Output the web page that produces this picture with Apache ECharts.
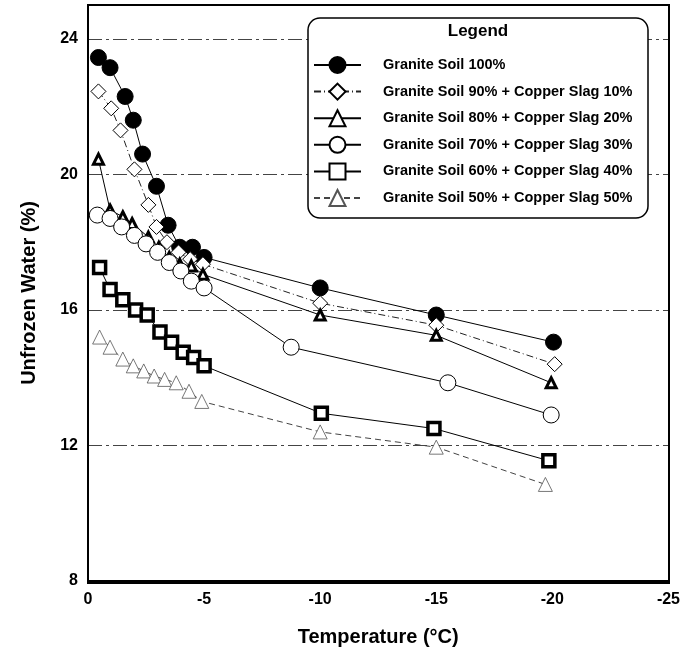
<!DOCTYPE html>
<html>
<head>
<meta charset="utf-8">
<script src="https://cdn.jsdelivr.net/npm/echarts@6/dist/echarts.min.js"></script>
<style>
  html, body { margin: 0; padding: 0; background: #fff; }
  #chart { width: 683px; height: 652px; }
</style>
</head>
<body>
<div id="chart"></div>
<script>
// series names
var names = [
  'Granite Soil 100%',
  'Granite Soil 90% + Copper Slag 10%',
  'Granite Soil 80% + Copper Slag 20%',
  'Granite Soil 70% + Copper Slag 30%',
  'Granite Soil 60% + Copper Slag 40%',
  'Granite Soil 50% + Copper Slag 50%'
];

// temperature (°C) and unfrozen water (%)
var t100 = [-0.45, -0.95, -1.6, -1.95, -2.35, -2.95, -3.45, -3.95, -4.5, -5, -10, -15, -20.05];
var w100 = [23.45, 23.15, 22.3, 21.6, 20.6, 19.65, 18.5, 17.85, 17.85, 17.55, 16.65, 15.85, 15.05];

var t90 = [-0.45, -1, -1.4, -2, -2.6, -2.95, -3.4, -3.9, -4.4, -4.95, -10, -15, -20.1];
var w90 = [22.45, 21.95, 21.3, 20.15, 19.1, 18.45, 18.0, 17.7, 17.5, 17.35, 16.2, 15.55, 14.4];

var t80 = [-0.45, -0.95, -1.5, -1.9, -2.6, -3.05, -3.5, -3.95, -4.45, -4.95, -10, -15, -19.95];
var w80 = [20.45, 18.95, 18.75, 18.55, 18.15, 17.85, 17.55, 17.35, 17.3, 17.05, 15.85, 15.25, 13.85];

var t70 = [-0.4, -0.95, -1.45, -2, -2.5, -3, -3.5, -4, -4.45, -5, -8.75, -15.5, -19.95];
var w70 = [18.8, 18.7, 18.45, 18.2, 17.95, 17.7, 17.4, 17.15, 16.85, 16.65, 14.9, 13.85, 12.9];

var t60 = [-0.5, -0.95, -1.5, -2.05, -2.55, -3.1, -3.6, -4.1, -4.55, -5, -10.05, -14.9, -19.85];
var w60 = [17.25, 16.6, 16.3, 16.0, 15.85, 15.35, 15.05, 14.75, 14.6, 14.35, 12.95, 12.5, 11.55];

var t50 = [-0.5, -0.95, -1.5, -1.95, -2.4, -2.85, -3.3, -3.8, -4.35, -4.9, -10, -15, -19.7];
var w50 = [15.2, 14.9, 14.55, 14.35, 14.2, 14.05, 13.95, 13.85, 13.6, 13.3, 12.4, 11.95, 10.85];

function pairs(xs, ys) {
  return xs.map(function (x, i) { return [x, ys[i]]; });
}

var font = 'Liberation Sans, Arial, sans-serif';

function makeSeries(name, data, symbol, size, fill, stroke, border, lineColor, lineType) {
  return {
    name: name,
    type: 'line',
    data: data,
    symbol: symbol,
    symbolSize: size,
    z: 2,
    itemStyle: { color: fill, borderColor: stroke, borderWidth: border },
    lineStyle: { color: lineColor, width: 1, type: lineType },
    emphasis: { disabled: true }
  };
}

var chart = echarts.init(document.getElementById('chart'));

chart.setOption({
  animation: false,
  backgroundColor: '#fff',
  grid: {
    left: 88, right: 14, top: 5, bottom: 69,
    show: false
  },
  xAxis: {
    type: 'value',
    inverse: true,
    min: -25, max: 0, interval: 5,
    name: 'Temperature (°C)',
    nameLocation: 'middle',
    nameGap: 46,
    nameTextStyle: { fontFamily: font, fontWeight: 'bold', fontSize: 20, color: '#000' },
    axisLine: { show: true, lineStyle: { color: '#000', width: 2 } },
    axisTick: { show: false },
    axisLabel: { fontFamily: font, fontWeight: 'bold', fontSize: 16, color: '#000', margin: 11 },
    splitLine: { show: false }
  },
  yAxis: {
    type: 'value',
    min: 8, max: 25, interval: 4,
    name: 'Unfrozen Water (%)',
    nameLocation: 'middle',
    nameGap: 49,
    nameTextStyle: { fontFamily: font, fontWeight: 'bold', fontSize: 20, color: '#000' },
    axisLine: { show: true, lineStyle: { color: '#000', width: 2 } },
    axisTick: { show: false },
    axisLabel: {
      fontFamily: font, fontWeight: 'bold', fontSize: 16, color: '#000', margin: 10,
      formatter: function (v) { return v % 4 === 0 ? String(v) : ''; }
    },
    splitLine: { show: true, lineStyle: { color: '#444', width: 1, type: [14, 4, 3, 4] } }
  },
  graphic: [
    {
      // solid plot frame drawn over the split line at the top edge
      type: 'rect', z: 5,
      shape: { x: 88, y: 5, width: 581, height: 578 },
      style: { fill: null, stroke: '#000', lineWidth: 2 }
    },
    {
      type: 'rect', z: 3,
      shape: { x: 308, y: 18, width: 340, height: 200, r: 12 },
      style: { fill: '#fff', stroke: '#000', lineWidth: 1.5 }
    },
    {
      type: 'text', z: 4,
      x: 478, y: 31,
      style: {
        text: 'Legend', fill: '#000', font: 'bold 17px ' + font,
        textAlign: 'center', textVerticalAlign: 'middle'
      }
    }
  ],
  legend: {
    z: 10,
    orient: 'vertical',
    left: 313, top: 56,
    padding: 0,
    itemWidth: 47, itemHeight: 20, itemGap: 8.6,
    selectedMode: false,
    textStyle: { fontFamily: font, fontWeight: 'bold', fontSize: 14.5, color: '#000', padding: [0, 0, 0, 17] },
    data: names
  },
  series: [
    makeSeries(names[0], pairs(t100, w100), 'circle', 16, '#000', '#000', 1, '#000', 'solid'),
    makeSeries(names[1], pairs(t90, w90), 'diamond', 15, '#fff', '#000', 1, '#222', [7, 3, 1, 3]),
    makeSeries(names[2], pairs(t80, w80), 'triangle', 10, '#fff', '#000', 3, '#000', 'solid'),
    makeSeries(names[3], pairs(t70, w70), 'circle', 16, '#fff', '#000', 1, '#000', 'solid'),
    makeSeries(names[4], pairs(t60, w60), 'rect', 12, '#fff', '#000', 3.5, '#000', 'solid'),
    makeSeries(names[5], pairs(t50, w50), 'triangle', 14, '#fff', '#555', 0.8, '#444', [6, 4])
  ]
});
</script>
</body>
</html>
